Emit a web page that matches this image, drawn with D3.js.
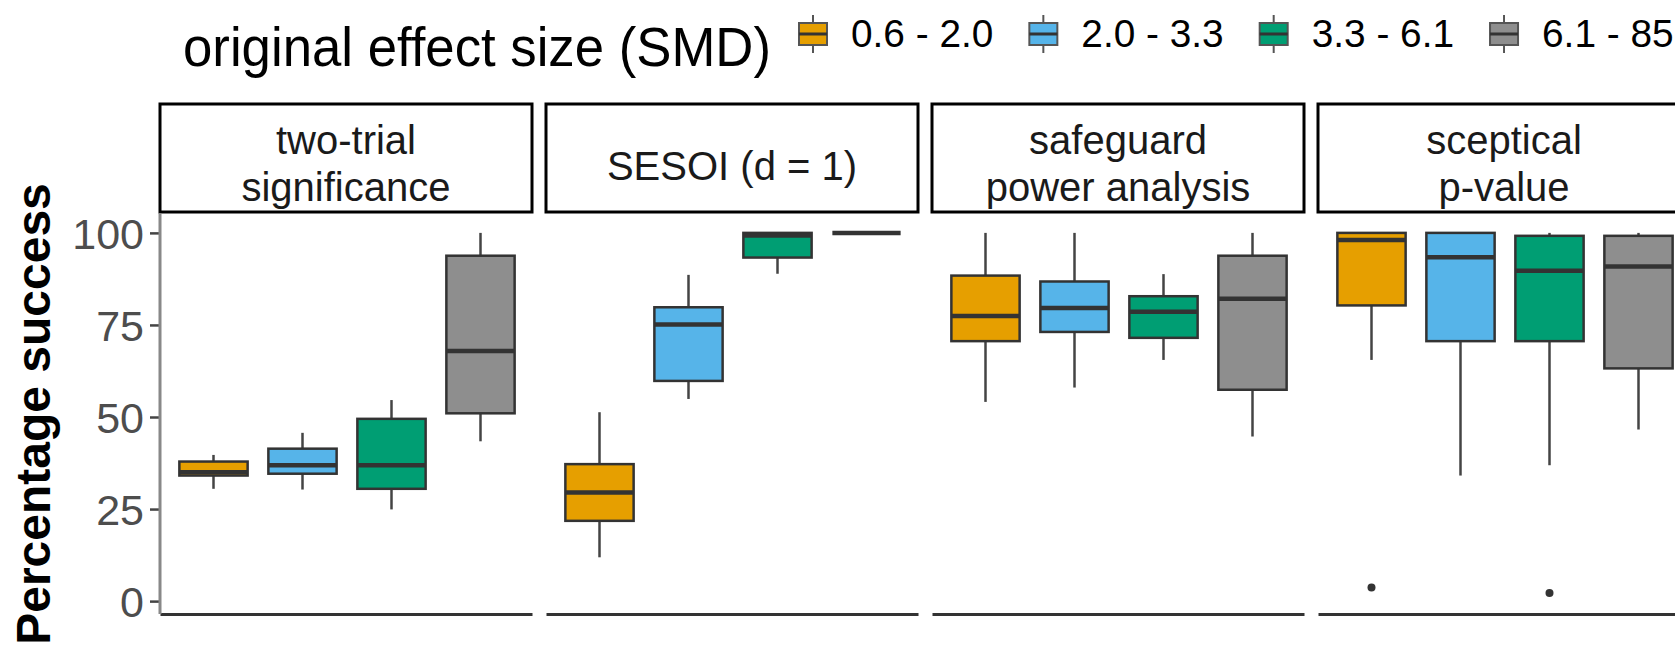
<!DOCTYPE html>
<html>
<head>
<meta charset="utf-8">
<script src="https://cdn.jsdelivr.net/npm/d3@7"></script>
<style>
  body { margin: 0; background: #fff; }
  svg { display: block; font-family: "Liberation Sans", Arial, sans-serif; }
</style>
</head>
<body>
<svg class="canvas" width="1675" height="648"></svg>
<script>
// facets and groups
const methods = ["two-trial\nsignificance", "SESOI (d = 1)", "safeguard\npower analysis", "sceptical\np-value"];
const sizeBins = ["0.6 - 2.0", "2.0 - 3.3", "3.3 - 6.1", "6.1 - 85.0"];
const yTicks = [0, 25, 50, 75, 100];

// box statistics, one row per method, one column per size bin
const whiskerLow = [
  [30.5, 30.3, 24.9, 43.4],
  [11.9, 54.9, 88.9, 100],
  [54.1, 58.0, 65.5, 44.7],
  [65.5, 34.1, 36.9, 46.6]
];
const q1 = [
  [34.1, 34.6, 30.5, 51.0],
  [21.8, 59.8, 93.3, 100],
  [70.6, 73.1, 71.5, 57.4],
  [80.3, 70.6, 70.6, 63.2]
];
const median = [
  [35.0, 36.9, 36.9, 67.9],
  [29.5, 75.1, 99.3, 100],
  [77.4, 79.6, 78.6, 82.1],
  [98.1, 93.4, 89.7, 90.9]
];
const q3 = [
  [37.9, 41.4, 49.5, 93.8],
  [37.2, 79.8, 100, 100],
  [88.4, 86.8, 82.8, 93.8],
  [100, 100, 99.2, 99.2]
];
const whiskerHigh = [
  [39.7, 45.7, 54.6, 100],
  [51.3, 88.6, 100, 100],
  [100, 100, 88.8, 100],
  [100, 100, 100, 100]
];
// [method index, bin index, value]
const outliers = [[3, 0, 3.7], [3, 2, 2.2]];

const binColors = ["#E69F00", "#56B4E9", "#009E73", "#8E8E8E"];

const svg = d3.select(".canvas");
const stripTop = 104;
const plotTop = 213;
const plotBottom = 614;

// facet positions
const fx = d3.scaleBand().domain(methods).range([160, 1690]).paddingInner(14 / 386);
const panelW = fx.bandwidth();
// dodge inside each facet
const gx = d3.scaleBand().domain(sizeBins).range([9, panelW - 7]).paddingInner(0.233).paddingOuter(0.1165);
const bw = gx.bandwidth();
const y = d3.scaleLinear().domain([-3.5, 105.4]).range([plotBottom, plotTop]);

methods.forEach((m, i) => {
  const panel = svg.append("g").attr("transform", `translate(${fx(m)},0)`);

  // strip
  panel.append("rect")
    .attr("x", 0).attr("y", stripTop)
    .attr("width", panelW).attr("height", plotTop - stripTop - 1)
    .attr("fill", "#fff").attr("stroke", "#000").attr("stroke-width", 3);
  const lines = m.split("\n");
  const baselines = lines.length === 2 ? [154, 201] : [180];
  lines.forEach((t, k) => {
    panel.append("text")
      .attr("x", panelW / 2).attr("y", baselines[k])
      .attr("text-anchor", "middle")
      .style("font-size", "40px").style("fill", "#1a1a1a")
      .text(t);
  });

  // bottom axis line
  panel.append("g")
    .attr("transform", `translate(0,${plotBottom})`)
    .call(d3.axisBottom(d3.scaleLinear().range([0, panelW])).ticks(0).tickSizeOuter(0))
    .call((g) => g.select(".domain").attr("stroke", "#333").attr("stroke-width", 3));

  // boxes
  sizeBins.forEach((b, j) => {
    const cx = gx(b) + bw / 2;
    const col = binColors[j];
    panel.append("line")
      .attr("x1", cx).attr("x2", cx)
      .attr("y1", y(whiskerHigh[i][j])).attr("y2", y(q3[i][j]))
      .attr("stroke", "#444").attr("stroke-width", 2.5);
    panel.append("line")
      .attr("x1", cx).attr("x2", cx)
      .attr("y1", y(q1[i][j])).attr("y2", y(whiskerLow[i][j]))
      .attr("stroke", "#444").attr("stroke-width", 2.5);
    panel.append("rect")
      .attr("x", gx(b)).attr("y", y(q3[i][j]))
      .attr("width", bw).attr("height", y(q1[i][j]) - y(q3[i][j]))
      .attr("fill", col).attr("stroke", "#333").attr("stroke-width", 2.5);
    panel.append("line")
      .attr("x1", gx(b)).attr("x2", gx(b) + bw)
      .attr("y1", y(median[i][j])).attr("y2", y(median[i][j]))
      .attr("stroke", "#333").attr("stroke-width", 4.5);
  });

  // outliers
  panel.selectAll("circle.out")
    .data(outliers.filter((o) => o[0] === i))
    .enter()
    .append("circle")
    .attr("cx", (o) => gx(sizeBins[o[1]]) + bw / 2)
    .attr("cy", (o) => y(o[2]))
    .attr("r", 4)
    .attr("fill", "#333");

  // y axis on first facet only
  if (i === 0) {
    const yAxis = panel.append("g")
      .call(d3.axisLeft(y).tickValues(yTicks).tickSize(10).tickPadding(6));
    yAxis.select(".domain").remove();
    yAxis.selectAll(".tick line").attr("stroke", "#444").attr("stroke-width", 2.5);
    yAxis.selectAll(".tick text")
      .style("font-size", "43px").style("fill", "#4d4d4d")
      .style("font-family", "Liberation Sans, Arial, sans-serif")
      .attr("dy", "0.36em");
    panel.append("line")
      .attr("x1", 0).attr("x2", 0).attr("y1", plotTop).attr("y2", plotBottom)
      .attr("stroke", "#888").attr("stroke-width", 3);
  }
});

// y title
svg.append("text")
  .attr("transform", "translate(50,414) rotate(-90)")
  .attr("text-anchor", "middle")
  .style("font-size", "48px").style("font-weight", "bold")
  .text("Percentage success");

// legend
const titleWidth = 588;
svg.append("text")
  .attr("x", 183).attr("y", 66)
  .attr("textLength", titleWidth).attr("lengthAdjust", "spacingAndGlyphs")
  .style("font-size", "56px").style("fill", "#000")
  .text("original effect size (SMD)");
let lx = 183 + titleWidth + 28;
const keyMid = 34;
sizeBins.forEach((b, j) => {
  const key = svg.append("g").attr("transform", `translate(${lx},0)`);
  key.append("line")
    .attr("x1", 14).attr("x2", 14).attr("y1", keyMid - 19).attr("y2", keyMid + 19)
    .attr("stroke", "#555").attr("stroke-width", 2);
  key.append("rect")
    .attr("x", 0).attr("y", keyMid - 11).attr("width", 28).attr("height", 22)
    .attr("fill", binColors[j]).attr("stroke", "#555").attr("stroke-width", 2);
  key.append("line")
    .attr("x1", 0).attr("x2", 28).attr("y1", keyMid).attr("y2", keyMid)
    .attr("stroke", "#333").attr("stroke-width", 3);
  const label = svg.append("text")
    .attr("x", lx + 52).attr("y", 47)
    .style("font-size", "38.8px").style("fill", "#000")
    .text(b);
  lx += 52 + label.node().getComputedTextLength() + 36;
});
</script>
</body>
</html>
